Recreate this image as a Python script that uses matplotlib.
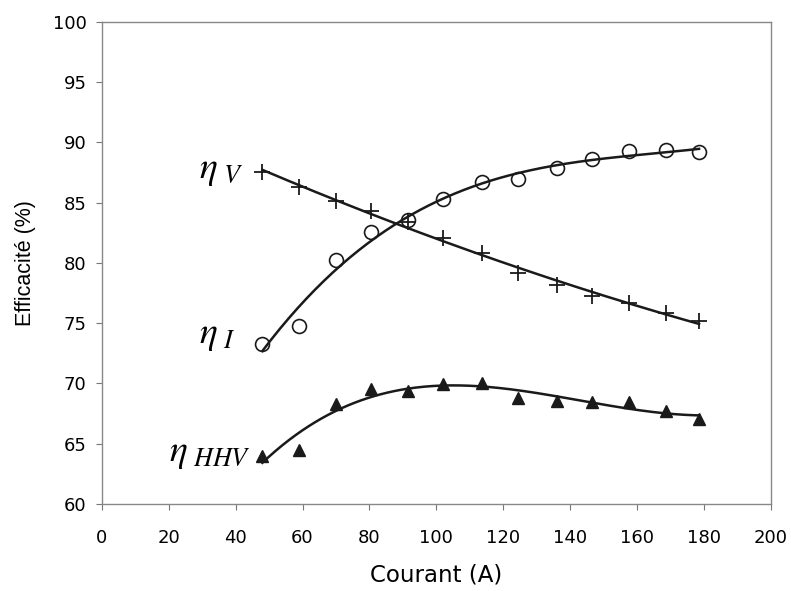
import numpy as np
import matplotlib
matplotlib.use("Agg")
import matplotlib.pyplot as plt

plt.rcParams['font.family'] = ['DejaVu Sans']
plt.rcParams['mathtext.fontset'] = 'stix'

# courant (A)
courant = [48, 59, 70, 80.5, 91.5, 102, 113.5, 124.5, 136, 146.5, 157.5, 168.5, 178.5]

# efficacites (%)
eta_v = [87.55, 86.3, 85.15, 84.3, 83.4, 82.07, 80.83, 79.17, 78.17, 77.26, 76.68, 75.85, 75.19]
eta_i = [73.28, 74.77, 80.25, 82.57, 83.57, 85.31, 86.72, 86.97, 87.88, 88.63, 89.29, 89.38, 89.2]
eta_hhv = [63.98, 64.48, 68.3, 69.52, 69.4, 69.96, 70.0, 68.77, 68.57, 68.44, 68.49, 67.74, 67.03]

fig = plt.figure(figsize=(7.91, 5.91), dpi=100)
ax = fig.add_axes([0.1286, 0.1472, 0.8461, 0.8156])

x = np.array(courant)
xf = np.linspace(x.min(), x.max(), 200)

# courbes de tendance (polynomes)
for serie, deg in [(eta_v, 2), (eta_i, 3), (eta_hhv, 3)]:
    p = np.polyfit(x, serie, deg)
    ax.plot(xf, np.polyval(p, xf), color='#1a1a1a', lw=1.8, zorder=2)

ax.plot(courant, eta_v, '+', color='#1a1a1a', ms=11, mew=1.3, zorder=3)
ax.plot(courant, eta_i, 'o', mfc='none', mec='#1a1a1a', ms=10, mew=1.2, zorder=3)
ax.plot(courant, eta_hhv, '^', color='#1a1a1a', ms=9, zorder=3)

ax.text(29.0, 87.7, r'$\eta_{\ V}$', fontsize=27, va='center', ha='left')
ax.text(29.0, 74.0, r'$\eta_{\ I}$', fontsize=27, va='center', ha='left')
ax.text(20.0, 64.2, r'$\eta_{\ HHV}$', fontsize=27, va='center', ha='left')

ax.set_xlim(0, 200)
ax.set_ylim(60, 100)
ax.set_xticks(np.arange(0, 201, 20))
ax.set_yticks(np.arange(60, 101, 5))
ax.tick_params(direction='out', length=4, width=0.8, color='#777777',
               labelsize=13)
ax.tick_params(axis='x', pad=14)
ax.tick_params(axis='y', pad=7)
for s in ax.spines.values():
    s.set_color('#888888')
    s.set_linewidth(1.0)

ax.set_xlabel('Courant (A)', fontsize=16.5, labelpad=12)
ax.set_ylabel('Efficacité (%)', fontsize=15.5, labelpad=12,
              family=['Liberation Sans', 'DejaVu Sans'])

fig.savefig('out.png', dpi=100)
